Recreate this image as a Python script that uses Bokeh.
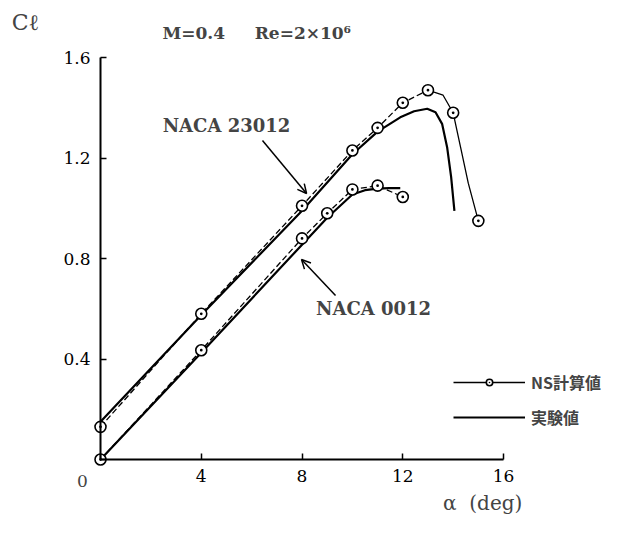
from bokeh.plotting import figure
from bokeh.models import Label, Arrow, OpenHead, Legend, LegendItem, FixedTicker
from bokeh.embed import file_html
from bokeh.resources import INLINE

# ---- data ----
# NS computation, NACA 23012 (circles)
ns23012_alpha = [0, 4, 8, 10, 11, 12, 13, 14, 15]
ns23012_cl = [0.13, 0.58, 1.01, 1.23, 1.32, 1.42, 1.47, 1.38, 0.95]
# NS curve tail after the peak (drawn solid thin)
ns23012_tail_alpha = [13, 13.6, 14, 14.3, 14.6, 15]
ns23012_tail_cl = [1.47, 1.45, 1.38, 1.24, 1.10, 0.95]
# NS computation, NACA 0012
ns0012_alpha = [0, 4, 8, 9, 10, 11, 12]
ns0012_cl = [0.0, 0.435, 0.88, 0.98, 1.075, 1.09, 1.045]
# Experiment, NACA 23012
exp23012_alpha = [0, 4, 8, 10, 11, 11.9, 12.45, 12.97, 13.3, 13.56, 13.76, 13.92, 14.05]
exp23012_cl = [0.15, 0.575, 0.99, 1.215, 1.305, 1.362, 1.386, 1.396, 1.382, 1.336, 1.243, 1.124, 0.99]
# Experiment, NACA 0012
exp0012_alpha = [0, 4, 8, 9, 10, 10.5, 11, 11.45, 11.9]
exp0012_cl = [0.0, 0.425, 0.855, 0.962, 1.055, 1.072, 1.078, 1.08, 1.08]

x_ticks = [0, 4, 8, 12, 16]
y_ticks = [0, 0.4, 0.8, 1.2, 1.6]

title_text = "M=0.4\u00a0\u00a0\u00a0\u00a0\u00a0Re=2×10⁶"
ylabel_text = "Cℓ"
xlabel_text = "α\u00a0\u00a0(deg)"
label_23012 = "NACA 23012"
label_0012 = "NACA 0012"
legend_ns = "NS計算値"
legend_exp = "実験値"

SERIF = "DejaVu Serif"
CJK = "Noto Sans CJK JP"

p = figure(width=627, height=525, x_range=(-3.970, 20.921), y_range=(-0.2627, 1.827),
           output_backend="svg", toolbar_location=None, min_border=0)
p.outline_line_color = None
p.xgrid.visible = False
p.ygrid.visible = False
p.background_fill_color = "white"

for ax, ticks in ((p.xaxis[0], x_ticks), (p.yaxis[0], y_ticks)):
    ax.fixed_location = 0
    ax.ticker = FixedTicker(ticks=ticks)
    ax.bounds = (ticks[0], ticks[-1])
    ax.axis_line_width = 2
    ax.axis_line_color = "black"
    ax.major_tick_in = 6
    ax.major_tick_out = 0
    ax.major_tick_line_width = 1.5
    ax.minor_tick_line_color = None
    ax.major_label_text_font = SERIF
    ax.major_label_text_font_size = "17px"
    ax.major_label_text_color = "black"
    ax.major_label_overrides = {0: ""}
p.xaxis.major_label_standoff = 10
p.yaxis.major_label_standoff = 10

# experimental curves
exp_r = p.line(exp23012_alpha, exp23012_cl, line_color="black", line_width=2.2)
p.line(exp0012_alpha, exp0012_cl, line_color="black", line_width=2.2)

# NS curves
p.line(ns23012_alpha[:7], ns23012_cl[:7], line_color="black", line_width=1.3, line_dash="6 3")
tail_r = p.line(ns23012_tail_alpha, ns23012_tail_cl, line_color="black", line_width=1.3)
p.line(ns0012_alpha, ns0012_cl, line_color="black", line_width=1.3, line_dash="6 3")
circ_r = p.scatter(ns23012_alpha, ns23012_cl, marker="circle_dot", size=11,
                   fill_color="white", line_color="black", line_width=1.6)
p.scatter(ns0012_alpha, ns0012_cl, marker="circle_dot", size=11,
          fill_color="white", line_color="black", line_width=1.6)

# texts
p.add_layout(Label(x=-2.98, y=1.739, text=ylabel_text, text_font=SERIF, text_font_size="22px",
                   text_align="center", text_baseline="middle"))
p.add_layout(Label(x=2.46, y=1.696, text=title_text, text_font=SERIF, text_font_size="17px",
                   text_font_style="bold", text_align="left", text_baseline="middle"))
p.add_layout(Label(x=-0.72, y=-0.085, text="0", text_font=SERIF, text_font_size="17px",
                   text_align="center", text_baseline="middle"))
p.add_layout(Label(x=13.6, y=-0.175, text=xlabel_text, text_font=SERIF, text_font_size="20px",
                   text_align="left", text_baseline="middle"))
p.add_layout(Label(x=5.0, y=1.329, text=label_23012, text_font=SERIF, text_font_size="18px",
                   text_font_style="bold", text_align="center", text_baseline="middle"))
p.add_layout(Label(x=10.84, y=0.601, text=label_0012, text_font=SERIF, text_font_size="18px",
                   text_font_style="bold", text_align="center", text_baseline="middle"))

p.add_layout(Arrow(end=OpenHead(size=9, line_width=1.5), x_start=6.43, y_start=1.27,
                   x_end=8.18, y_end=1.059, line_width=1.5))
p.add_layout(Arrow(end=OpenHead(size=9, line_width=1.5), x_start=9.33, y_start=0.653,
                   x_end=7.98, y_end=0.796, line_width=1.5))

legend = Legend(items=[LegendItem(label=legend_ns, renderers=[tail_r, circ_r]),
                       LegendItem(label=legend_exp, renderers=[exp_r])],
                location=(453, 96), glyph_width=72, glyph_height=16, label_standoff=6,
                spacing=11, padding=0, margin=0, border_line_alpha=0,
                background_fill_alpha=0, label_text_font=CJK, label_text_font_style="bold",
                label_text_font_size="16px")
p.add_layout(legend)

open("out.html", "w").write(file_html(p, INLINE))
